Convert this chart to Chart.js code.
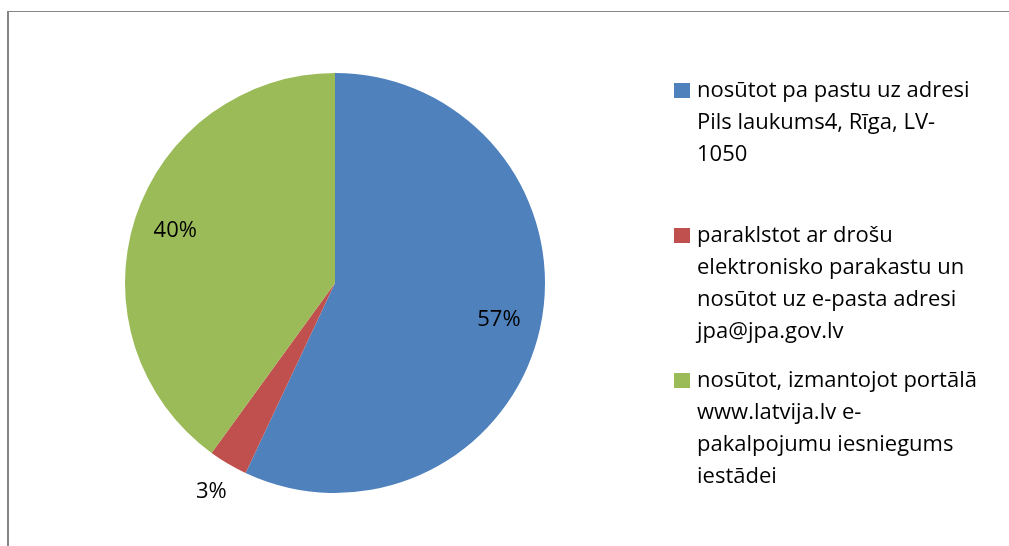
<!DOCTYPE html>
<html>
<head>
<meta charset="utf-8">
<script src="https://cdn.jsdelivr.net/npm/chart.js@4.4.0/dist/chart.umd.min.js"></script>
<style>
    html, body { margin: 0; padding: 0; background: #fff; }
    #wrap { position: relative; width: 1009px; height: 546px; overflow: hidden; }
    #frame {
        position: absolute; left: 7px; top: 11px; width: 1100px; height: 600px;
        border-left: 2px solid #868686; border-top: 1px solid #868686;
    }
    canvas { position: absolute; left: 0; top: 0; }
</style>
</head>
<body>
<div id="wrap">
    <div id="frame"></div>
    <canvas id="grafico" width="1009" height="546"></canvas>
</div>
<script>
// legend lines are kept as they wrap in the picture
const categorias = [
    ['nosūtot pa pastu uz adresi', 'Pils laukums4, Rīga, LV-', '1050'],
    ['paraklstot ar drošu', 'elektronisko parakastu un', 'nosūtot uz e-pasta adresi', 'jpa@jpa.gov.lv'],
    ['nosūtot, izmantojot portālā', 'www.latvija.lv e-', 'pakalpojumu iesniegums', 'iestādei']
]
const valores = [57, 3, 40]
const cores = ['#4F81BD', '#C0504D', '#9BBB59']

const fonte = '22px "Open Sans", Lato, sans-serif'

const rotulosPlugin = {
    id: 'rotulos',
    afterDatasetsDraw(chart) {
        const ctx = chart.ctx
        const meta = chart.getDatasetMeta(0)
        const total = valores.reduce((s, v) => s + v, 0)

        ctx.save()
        ctx.font = fonte
        ctx.fillStyle = '#000'
        ctx.textAlign = 'center'
        ctx.textBaseline = 'middle'

        meta.data.forEach((arc, i) => {
            const p = arc.getProps(['x', 'y', 'startAngle', 'endAngle', 'outerRadius'], true)
            const meio = (p.startAngle + p.endAngle) / 2
            const pct = Math.round(valores[i] / total * 100)
            const r = pct < 5 ? p.outerRadius + 33 : p.outerRadius * 0.8
            ctx.fillText(pct + '%', p.x + Math.cos(meio) * r, p.y + Math.sin(meio) * r)
        })

        ctx.restore()
    }
}

const legendaPlugin = {
    id: 'legendaLateral',
    afterDraw(chart) {
        const ctx = chart.ctx
        const x0 = 674
        const y0 = 90.5
        const passoItem = 145
        const passoLinha = 32

        ctx.save()
        ctx.font = fonte
        ctx.textAlign = 'left'
        ctx.textBaseline = 'middle'

        categorias.forEach((linhas, i) => {
            const y = y0 + i * passoItem
            ctx.fillStyle = cores[i]
            ctx.fillRect(x0, y - 7.5, 16, 15)
            ctx.fillStyle = '#000'
            linhas.forEach((linha, j) => {
                ctx.fillText(linha, x0 + 23, y + j * passoLinha)
            })
        })

        ctx.restore()
    }
}

new Chart(document.getElementById('grafico'), {
    type: 'pie',
    data: {
        labels: categorias.map(l => l.join(' ')),
        datasets: [{
            data: valores,
            backgroundColor: cores,
            borderWidth: 0
        }]
    },
    options: {
        responsive: false,
        animation: false,
        layout: { padding: { left: 125, right: 464, top: 73, bottom: 53 } },
        plugins: {
            legend: { display: false },
            tooltip: { enabled: false }
        }
    },
    plugins: [rotulosPlugin, legendaPlugin]
})
</script>
</body>
</html>
